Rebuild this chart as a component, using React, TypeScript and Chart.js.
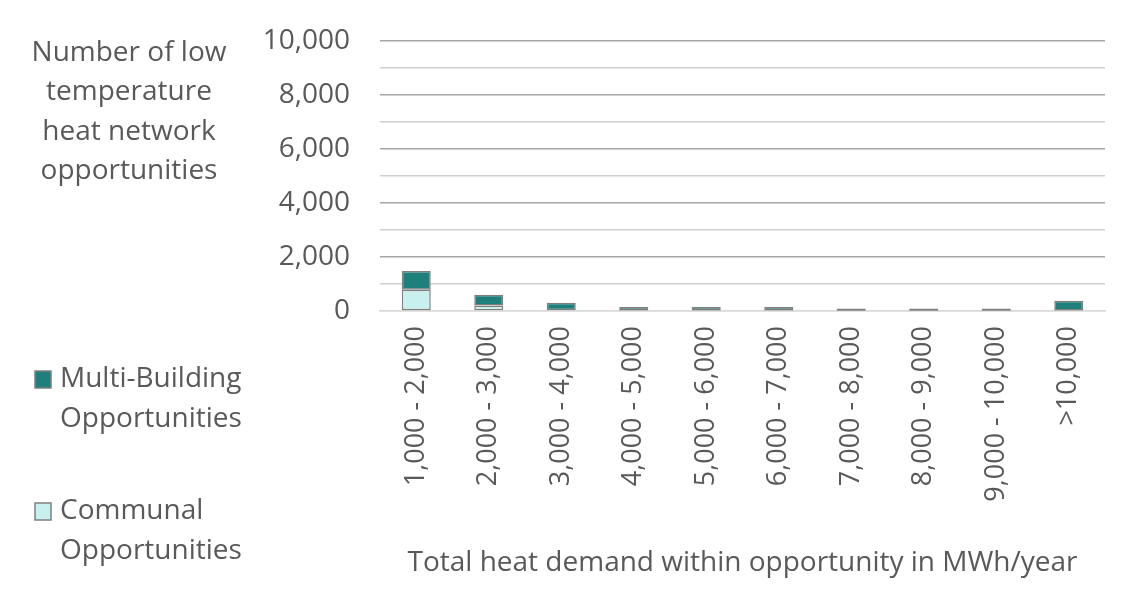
import { useEffect, useRef } from "react";
import { Chart, registerables } from "chart.js";

Chart.register(...registerables);

const categories = [
  "1,000 - 2,000",
  "2,000 - 3,000",
  "3,000 - 4,000",
  "4,000 - 5,000",
  "5,000 - 6,000",
  "6,000 - 7,000",
  "7,000 - 8,000",
  "8,000 - 9,000",
  "9,000 - 10,000",
  ">10,000",
];
const communal = [790, 200, 30, 20, 20, 15, 10, 10, 10, 20];
const multiBuilding = [690, 400, 280, 130, 130, 135, 80, 80, 80, 360];
const yTitleLines = ["Number of low", "temperature", "heat network", "opportunities"];
const xTitle = "Total heat demand within opportunity in MWh/year";

const FONT = "'Open Sans', sans-serif";
const TEXT = "#595959";
const EDGE = "#7f7f7f";

// y title and legend sit left of the axis, as in the Excel layout
const sidePlugin = {
  id: "side",
  afterDraw(chart: any) {
    const ctx = chart.ctx;
    ctx.save();
    ctx.fillStyle = TEXT;
    ctx.font = `28px ${FONT}`;
    ctx.textAlign = "center";
    ctx.textBaseline = "middle";
    yTitleLines.forEach((line, i) => ctx.fillText(line, 129, 53 + i * 39.5));

    const items = [...chart.data.datasets].reverse();
    items.forEach((ds: any, i: number) => {
      const y = 379 + i * 132;
      ctx.fillStyle = ds.backgroundColor;
      ctx.fillRect(35, y - 8, 16, 17);
      ctx.strokeStyle = EDGE;
      ctx.lineWidth = 1.5;
      ctx.strokeRect(35, y - 8, 16, 17);
      const cut = ds.label.lastIndexOf(" ");
      const lines = [ds.label.slice(0, cut), ds.label.slice(cut + 1)];
      ctx.fillStyle = TEXT;
      ctx.textAlign = "left";
      lines.forEach((l, j) => ctx.fillText(l, 60, y + j * 40));
    });
    ctx.restore();
  },
};

export default function App() {
  const canvasRef = useRef<HTMLCanvasElement>(null);

  useEffect(() => {
    if (!canvasRef.current) return;
    const chart = new Chart(canvasRef.current, {
      type: "bar",
      data: {
        labels: categories,
        datasets: [
          {
            label: "Communal Opportunities",
            data: communal,
            backgroundColor: "#c8f0ee",
            borderColor: EDGE,
            borderWidth: 1.5,
            borderSkipped: false,
          },
          {
            label: "Multi-Building Opportunities",
            data: multiBuilding,
            backgroundColor: "#1f7f7a",
            borderColor: EDGE,
            borderWidth: 1.5,
            borderSkipped: false,
          },
        ],
      },
      options: {
        responsive: false,
        maintainAspectRatio: false,
        animation: false,
        layout: { padding: { left: 250, right: 29, top: 41, bottom: 30 } },
        datasets: { bar: { barPercentage: 0.4, categoryPercentage: 1 } },
        plugins: { legend: { display: false }, tooltip: { enabled: false } },
        scales: {
          x: {
            stacked: true,
            grid: { display: false },
            border: { color: "#d9d9d9", width: 1.5 },
            ticks: {
              color: TEXT,
              font: { family: FONT, size: 27 },
              minRotation: 90,
              maxRotation: 90,
              autoSkip: false,
              padding: 7,
            },
            title: {
              display: true,
              text: xTitle,
              color: TEXT,
              font: { family: FONT, size: 28 },
              padding: { top: 0, bottom: 6 },
            },
            afterFit: (scale: any) => {
              scale.height = 275;
            },
          },
          y: {
            stacked: true,
            min: 0,
            max: 10000,
            border: { display: false },
            grid: {
              tickLength: 22,
              tickColor: "rgba(0,0,0,0)",
              lineWidth: 1.5,
              color: (c: any) =>
                c.tick.value === 0 ? "#d9d9d9" : c.tick.value % 2000 === 0 ? "#a6a6a6" : "#d0d0d0",
            },
            ticks: {
              stepSize: 1000,
              autoSkip: false,
              padding: 8,
              color: TEXT,
              font: { family: FONT, size: 28 },
              callback: (v: any) => (v % 2000 === 0 ? Number(v).toLocaleString("en-US") : ""),
            },
            afterFit: (scale: any) => {
              scale.width = 130;
            },
          },
        },
      },
      plugins: [sidePlugin],
    });
    return () => chart.destroy();
  }, []);

  return (
    <div style={{ position: "absolute", left: 0, top: 0, width: 1134, height: 616, background: "#fff" }}>
      <canvas ref={canvasRef} width={1134} height={616} />
    </div>
  );
}
